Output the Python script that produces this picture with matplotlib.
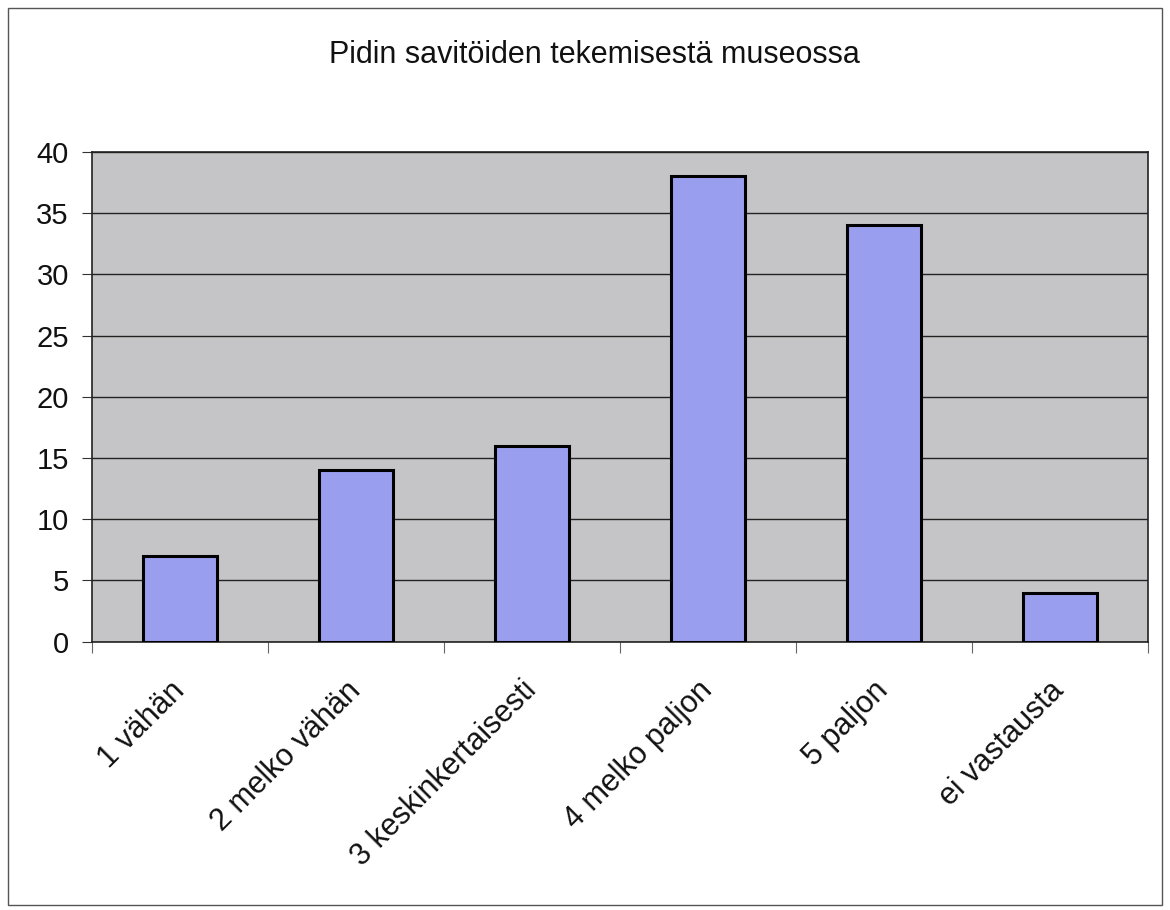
import matplotlib
matplotlib.use('Agg')
import matplotlib.pyplot as plt
from matplotlib.patches import Rectangle
from matplotlib.transforms import ScaledTranslation
import numpy as np

# data
categories = ['1 vähän', '2 melko vähän', '3 keskinkertaisesti',
              '4 melko paljon', '5 paljon', 'ei vastausta']
values = [7, 14, 16, 38, 34, 4]
y_ticks = [0, 5, 10, 15, 20, 25, 30, 35, 40]
title = 'Pidin savitöiden tekemisestä museossa'

plt.rcParams['font.family'] = ['Liberation Sans', 'DejaVu Sans']

fig = plt.figure(figsize=(11.7, 9.1), dpi=100)
fig.patch.set_facecolor('white')
ax = fig.add_axes([0.079, 0.295, 0.902, 0.538])

# outer chart frame
fig.patches.append(Rectangle((0.007, 0.006), 0.986, 0.985, transform=fig.transFigure,
                             fill=False, edgecolor='#555555', linewidth=1.0))

x = np.arange(len(categories))
ax.set_facecolor('#c5c5c7')
ax.bar(x, values, width=0.42, color='#9a9eee', edgecolor='black',
       linewidth=2.2, zorder=3)

ax.set_xlim(-0.5, len(categories) - 0.5)
ax.set_ylim(0, 40)
ax.set_yticks(y_ticks)
ax.yaxis.grid(True, color='#222222', linewidth=1.0, zorder=1)
ax.set_axisbelow(True)

# ticks at category boundaries, labels at centres
ax.set_xticks(np.arange(-0.5, len(categories), 1.0))
ax.set_xticklabels([])
ax.set_xticks(x, minor=True)
ax.set_xticklabels(categories, minor=True, rotation=45, ha='right', va='center',
                   rotation_mode='anchor', fontsize=22, color='#111111')
shift = ScaledTranslation(-0.36, 0, fig.dpi_scale_trans)
for lbl in ax.get_xticklabels(minor=True):
    lbl.set_transform(lbl.get_transform() + shift)
ax.tick_params(axis='x', which='minor', length=0, pad=32)
ax.tick_params(axis='x', which='major', length=8, direction='out', color='#666666')
ax.tick_params(axis='y', length=7, direction='out', labelsize=21,
               labelcolor='#111111', color='#333333', pad=10)

for sp in ax.spines.values():
    sp.set_color('#222222')
    sp.set_linewidth(1.2)

fig.text(0.508, 0.94, title, ha='center', va='center', fontsize=22, color='#111111')

fig.savefig('out.png', dpi=100, facecolor='white')
